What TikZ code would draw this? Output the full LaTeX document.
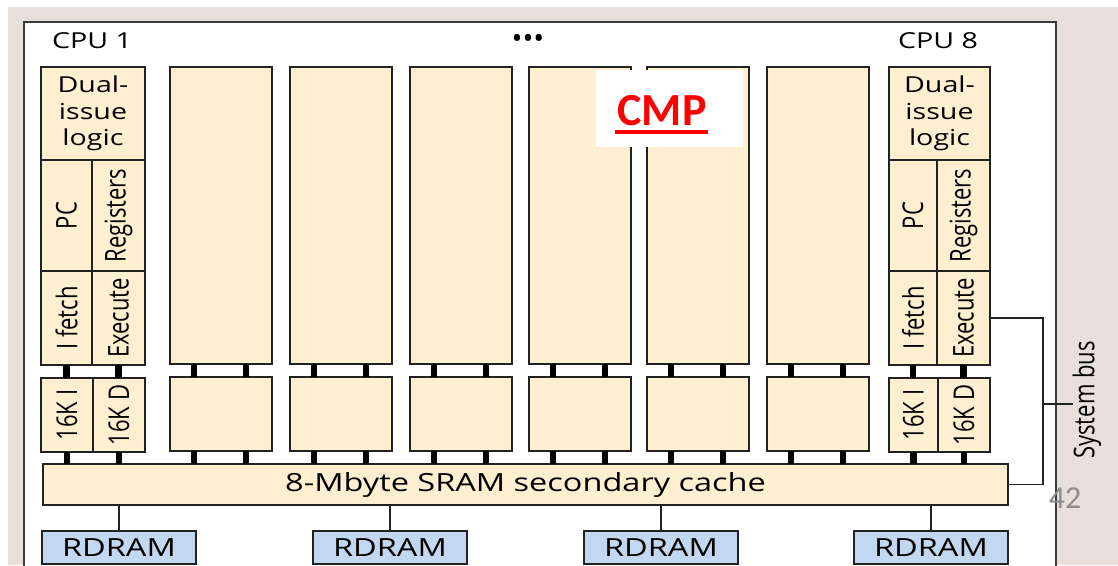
\documentclass[tikz,border=0pt]{standalone}
\usepackage{fontspec}
\usepackage{graphicx}
\setmainfont[FakeStretch=1.3]{Open Sans}
\newfontfamily\plainsans{Open Sans}
\newfontfamily\slidefont{Carlito}
\usetikzlibrary{positioning}
\definecolor{cellfill}{HTML}{FFEFD1}
\definecolor{ramfill}{HTML}{C2D8F0}
\definecolor{cellline}{HTML}{222222}
\definecolor{framegray}{HTML}{3A3A3A}
\definecolor{slidebg}{HTML}{E8DEDA}
\definecolor{cmpred}{HTML}{FF0000}
\definecolor{pagegray}{HTML}{8C8C8C}
\newcommand{\vtext}[1]{\rotatebox{90}{\scalebox{1}[1.3]{\plainsans #1}}}

\begin{document}
\begin{tikzpicture}[x=1pt,y=-1pt,font=\fontsize{22}{26.5}\selectfont,
  cell/.style={draw=cellline,line width=1.8pt,fill=cellfill,inner sep=0pt,outer sep=0pt,anchor=north west,align=center},
  ram/.style={cell,fill=ramfill,minimum width=154pt,minimum height=33pt,anchor=north,font=\fontsize{25}{30}\selectfont},
  stub/.style={line width=6.5pt,draw=black},
  wire/.style={line width=1.3pt,draw=cellline}]
\useasboundingbox (0,0) rectangle (1118,565);
\clip (0,0) rectangle (1118,565);
\fill[slidebg] (8,7) rectangle (1118,565);
\draw[framegray,line width=1.8pt,fill=white] (24,22) rectangle (1056,590);

% CPU 1
\node[cell,minimum width=104pt,minimum height=93pt] (dual1) at (41,67) {Dual-\\issue\\logic};
\node[cell,minimum width=51pt,minimum height=111pt] (pc1) at (dual1.south west) {\vtext{PC}};
\node[cell,minimum width=53pt,minimum height=111pt] (reg1) at (pc1.north east) {\vtext{Registers}};
\node[cell,minimum width=51pt,minimum height=94pt] (fetch1) at (pc1.south west) {\vtext{I fetch}};
\node[cell,minimum width=53pt,minimum height=94pt] (exec1) at (fetch1.north east) {\vtext{Execute}};
\node[cell,minimum width=52pt,minimum height=74pt] (icache1) at (41,378) {\vtext{16K I}};
\node[cell,minimum width=52pt,minimum height=74pt] (dcache1) at (icache1.north east) {\vtext{16K D}};

% CPU 8
\node[cell,minimum width=101pt,minimum height=93pt] (dual8) at (889,67) {Dual-\\issue\\logic};
\node[cell,minimum width=48pt,minimum height=111pt] (pc8) at (dual8.south west) {\vtext{PC}};
\node[cell,minimum width=53pt,minimum height=111pt] (reg8) at (pc8.north east) {\vtext{Registers}};
\node[cell,minimum width=48pt,minimum height=94pt] (fetch8) at (pc8.south west) {\vtext{I fetch}};
\node[cell,minimum width=53pt,minimum height=94pt] (exec8) at (fetch8.north east) {\vtext{Execute}};
\node[cell,minimum width=49pt,minimum height=74pt] (icache8) at (889,378) {\vtext{16K I}};
\node[cell,minimum width=52pt,minimum height=74pt] (dcache8) at (icache8.north east) {\vtext{16K D}};

% CPUs 2..7
\foreach \x [count=\i from 2] in {170,290,410,529,647,767}{
  \node[cell,minimum width=102pt,minimum height=297pt] (core\i) at (\x,67) {};
  \node[cell,minimum width=102pt,minimum height=74pt] (l1\i) at (\x,377) {};
}

\node[cell,minimum width=965pt,minimum height=41pt,font=\fontsize{25}{30}\selectfont] (l2) at (43,464) {8-Mbyte SRAM secondary cache};

\foreach \c in {1,8}{
  \draw[stub] (fetch\c.south) -- (fetch\c.south |- icache\c.north);
  \draw[stub] (exec\c.south) -- (exec\c.south |- dcache\c.north);
  \draw[stub] (icache\c.south) -- (icache\c.south |- l2.north);
  \draw[stub] (dcache\c.south) -- (dcache\c.south |- l2.north);
}
\foreach \i in {2,...,7}{
  \foreach \d in {24,76}{
    \draw[stub] ([xshift=\d pt]core\i.south west) -- ([xshift=\d pt]l1\i.north west);
    \draw[stub] ([xshift=\d pt]l1\i.south west) -- ([xshift=\d pt]l1\i.south west |- l2.north);
  }
}

\foreach \x [count=\i] in {119,390,661,931}{
  \node[ram] (ram\i) at (\x,531) {RDRAM};
  \draw[wire] (ram\i.north) -- (ram\i.north |- l2.south);
}

\node (cpu1) at (92,41) {CPU 1};
\node[font=\plainsans\fontsize{29}{30}\selectfont] (dots) at (528,41) {•••};
\node (cpu8) at (938,41) {CPU 8};

\node[inner sep=0pt] (sysbus) at (1087,400) {\vtext{System bus}};
\coordinate (busx) at (1043,404);
\draw[wire] (exec8.east) -| (busx |- l2.east) -- (l2.east);
\draw[wire] (busx) -- (busx -| sysbus.west);

\node[fill=white,inner sep=0pt,minimum width=147pt,minimum height=77pt,anchor=north west] (cmpbox) at (596,70) {};
\node[anchor=base,inner sep=0pt,text=cmpred,font=\slidefont\bfseries\fontsize{46}{50}\selectfont] (cmp) at (662,125) {CMP};
\draw[cmpred,line width=4pt] ([xshift=-2pt,yshift=-7pt]cmp.base west) -- ([xshift=1pt,yshift=-7pt]cmp.base east);

\node[text=pagegray,font=\slidefont\fontsize{32}{36}\selectfont] (pagenum) at (1065,498) {42};
\end{tikzpicture}
\end{document}
